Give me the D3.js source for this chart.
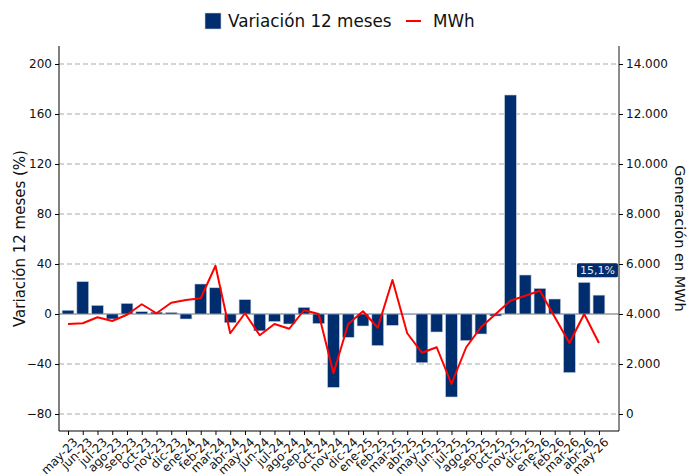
<!DOCTYPE html>
<html>
<head>
<meta charset="utf-8">
<script src="https://cdn.jsdelivr.net/npm/d3@7"></script>
<style>
  body { margin: 0; background: #fff; }
  svg { display: block; font-family: "DejaVu Sans", sans-serif; }
</style>
</head>
<body>
<div id="chart"></div>
<script>
const months = ['may-23', 'jun-23', 'jul-23', 'ago-23', 'sep-23', 'oct-23', 'nov-23', 'dic-23',
  'ene-24', 'feb-24', 'mar-24', 'abr-24', 'may-24', 'jun-24', 'jul-24', 'ago-24', 'sep-24', 'oct-24', 'nov-24', 'dic-24',
  'ene-25', 'feb-25', 'mar-25', 'abr-25', 'may-25', 'jun-25', 'jul-25', 'ago-25', 'sep-25', 'oct-25', 'nov-25', 'dic-25',
  'ene-26', 'feb-26', 'mar-26', 'abr-26', 'may-26'];

// variación 12 meses (%)
const variacion = [3.0, 25.9, 6.9, -4.0, 8.5, 1.9, 1.5, 1.3,
  -4.0, 24.0, 21.0, -7.0, 11.5, -13.5, -6.1, -8.0, 5.3, -7.7, -58.7, -18.7,
  -9.6, -25.3, -9.1, -0.4, -39.0, -14.4, -66.4, -21.3, -16.0, -1.6, 175.2, 31.2,
  20.5, 12.0, -46.9, 25.3, 15.1];

// generación en MWh
const mwh = [3600, 3630, 3870, 3720, 3970, 4390, 4030, 4450,
  4560, 4630, 5930, 3230, 4030, 3150, 3600, 3410, 4150, 4000, 1630, 3600,
  4110, 3450, 5360, 3230, 2450, 2670, 1200, 2670, 3470, 4000, 4530, 4730,
  4930, 3880, 2840, 4000, 2840];

const leftTicks = [-80, -40, 0, 40, 80, 120, 160, 200];
const rightTicks = [0, 2000, 4000, 6000, 8000, 10000, 12000, 14000];
const lastLabel = '15,1%';

const width = 687, height = 474;
const plot = { left: 59, right: 619, top: 46, bottom: 431 };

const svg = d3.select('#chart').append('svg')
  .attr('width', width)
  .attr('height', height);

const x = d3.scaleLinear()
  .domain([-0.61, 37.36])
  .range([plot.left, plot.right]);
const yL = d3.scaleLinear()
  .domain([-93.6, 214.4])
  .range([plot.bottom, plot.top]);
const yR = d3.scaleLinear()
  .domain([-680, 14720])
  .range([plot.bottom, plot.top]);

const step = x(1) - x(0);
const barW = step * 0.8;
const navy = '#002d6e';

// grid
svg.append('g')
  .selectAll('line')
  .data(leftTicks.filter(t => t !== 0))
  .join('line')
  .attr('x1', plot.left).attr('x2', plot.right)
  .attr('y1', d => yL(d)).attr('y2', d => yL(d))
  .attr('stroke', '#aaa')
  .attr('stroke-width', 1.2)
  .attr('stroke-dasharray', '5,3');

svg.append('line')
  .attr('x1', plot.left).attr('x2', plot.right)
  .attr('y1', yL(0)).attr('y2', yL(0))
  .attr('stroke', '#999')
  .attr('stroke-width', 1.5);

// bars
svg.append('g')
  .selectAll('rect')
  .data(variacion)
  .join('rect')
  .attr('x', (d, i) => x(i) - barW / 2)
  .attr('width', barW)
  .attr('y', d => yL(Math.max(0, d)))
  .attr('height', d => Math.abs(yL(d) - yL(0)))
  .attr('fill', navy)
  .attr('stroke', '#c5cfdd')
  .attr('stroke-width', 0.6);

// line
const line = d3.line()
  .x((d, i) => x(i))
  .y(d => yR(d));

svg.append('path')
  .datum(mwh)
  .attr('d', line)
  .attr('fill', 'none')
  .attr('stroke', '#ff0000')
  .attr('stroke-width', 2)
  .attr('stroke-linejoin', 'round');

// last value label
const li = variacion.length - 1;
const lab = svg.append('g')
  .attr('transform', `translate(${x(li) - 2},${yL(variacion[li]) - 25})`);
lab.append('rect')
  .attr('x', -20).attr('y', -7)
  .attr('width', 41).attr('height', 14)
  .attr('rx', 1.5)
  .attr('fill', navy);
lab.append('text')
  .attr('x', 0.5).attr('dy', '0.35em')
  .attr('text-anchor', 'middle')
  .attr('font-size', 11)
  .attr('fill', '#e6ecf4')
  .text(lastLabel);

// axes
const axL = d3.axisLeft(yL).tickValues(leftTicks).tickSize(4).tickPadding(3);
const axR = d3.axisRight(yR).tickValues(rightTicks).tickSize(4).tickPadding(3)
  .tickFormat(d => d3.format(',')(d).replace(/,/g, '.'));
const axB = d3.axisBottom(x).tickValues(d3.range(months.length)).tickSize(4).tickFormat('');

const gL = svg.append('g').attr('transform', `translate(${plot.left},0)`).call(axL);
const gR = svg.append('g').attr('transform', `translate(${plot.right},0)`).call(axR);
const gB = svg.append('g').attr('transform', `translate(0,${plot.bottom})`).call(axB);

gL.select('.domain').attr('d', `M0,${plot.top}V${plot.bottom}`).attr('stroke', '#000');
gR.select('.domain').attr('d', `M0,${plot.top}V${plot.bottom}`).attr('stroke', '#666').attr('stroke-width', 1.5);
gB.select('.domain').attr('d', `M${plot.left},0H${plot.right}`).attr('stroke', '#000');

[gL, gR].forEach(g => g.selectAll('text')
  .attr('font-size', 12)
  .attr('font-family', '"DejaVu Sans", sans-serif')
  .attr('fill', '#111'));

gB.selectAll('.tick')
  .append('text')
  .attr('transform', 'translate(4,6) rotate(-45)')
  .attr('text-anchor', 'end')
  .attr('dy', '0.7em')
  .attr('font-size', 12)
  .attr('font-family', '"DejaVu Sans", sans-serif')
  .attr('fill', '#111')
  .text((d, i) => months[i]);

// axis titles
svg.append('text')
  .attr('transform', `translate(25,${(plot.top + plot.bottom) / 2}) rotate(-90)`)
  .attr('text-anchor', 'middle')
  .attr('font-size', 15)
  .attr('fill', '#111')
  .text('Variación 12 meses (%)');

svg.append('text')
  .attr('transform', `translate(675,${(plot.top + plot.bottom) / 2}) rotate(90)`)
  .attr('text-anchor', 'middle')
  .attr('font-size', 14.5)
  .attr('fill', '#111')
  .text('Generación en MWh');

// legend
const leg = svg.append('g');
leg.append('rect')
  .attr('x', 205).attr('y', 13)
  .attr('width', 16).attr('height', 16)
  .attr('fill', navy)
  .attr('stroke', '#c5cfdd').attr('stroke-width', 0.6);
leg.append('text')
  .attr('x', 228).attr('y', 27)
  .attr('font-size', 16.8)
  .attr('fill', '#111')
  .text('Variación 12 meses');
leg.append('line')
  .attr('x1', 406).attr('x2', 421)
  .attr('y1', 21).attr('y2', 21)
  .attr('stroke', '#ff0000').attr('stroke-width', 2);
leg.append('text')
  .attr('x', 433).attr('y', 27)
  .attr('font-size', 16.8)
  .attr('fill', '#111')
  .text('MWh');
</script>
</body>
</html>
